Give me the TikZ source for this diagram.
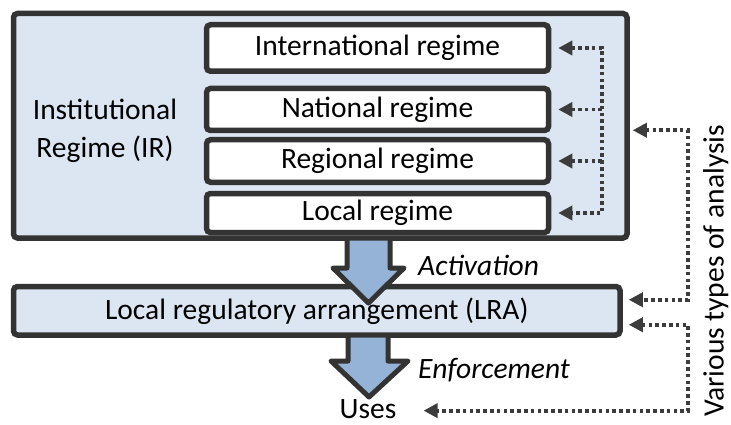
\documentclass[tikz,border=0pt]{standalone}
\usepackage{fontspec}
\setmainfont{Carlito}
\usetikzlibrary{arrows.meta}

\definecolor{ink}{HTML}{333333}
\definecolor{panel}{HTML}{DCE6F2}
\definecolor{flow}{HTML}{95B3D7}
\definecolor{dotink}{HTML}{3C3C3C}

\begin{document}
\begin{tikzpicture}[x=1pt,y=-1pt,
  txt/.style={font=\fontsize{29.5}{38}\selectfont, text=black},
  framebox/.style={txt, draw=ink, line width=5.5pt, rounded corners=4pt, inner sep=0pt},
  label/.style={txt, inner sep=0pt},
  dotline/.style={draw=dotink, line width=3.8pt, dash pattern=on 3.6pt off 3.2pt},
  dottip/.style={dotline, -{Triangle[length=14pt,width=14pt]}},
  dottips/.style={dotline, {Triangle[length=14pt,width=14pt]}-{Triangle[length=14pt,width=14pt]}},
  flowfill/.style={fill=flow},
  flowedge/.style={draw=ink, line width=5pt, line join=round}
]
\useasboundingbox (0,0) rectangle (731,425);

% institutional regime frame
\node[framebox, fill=panel, minimum width=613.5pt, minimum height=224.5pt] (ir) at (320.25,125.75) {};
\node[label, align=center] (irlbl) at (105,131) {Institutional\\Regime (IR)};

% the four regime levels
\node[framebox, fill=white, minimum width=342pt, minimum height=46.5pt] (intl) at (377.5,48) {International regime};
\node[framebox, fill=white, minimum width=342pt, minimum height=42pt] (natl) at (377.5,109.5) {National regime};
\node[framebox, fill=white, minimum width=342pt, minimum height=42.5pt] (regl) at (377.5,161) {Regional regime};
\node[framebox, fill=white, minimum width=342pt, minimum height=39pt] (locl) at (377.5,213) {Local regime};

% local regulatory arrangement
\node[framebox, fill=panel, minimum width=606.5pt, minimum height=48.5pt] (lra) at (316.75,310.75) {Local regulatory arrangement (LRA)};

% block arrow: activation
\fill[flowfill] (347,240.5) -- (347,268) -- (333,268) -- (368.5,303) -- (404,268) -- (390,268) -- (390,240.5) -- cycle;
\draw[flowedge] (347,238) -- (347,268) -- (333,268) -- (368.5,303) -- (404,268) -- (390,268) -- (390,238);

% block arrow: enforcement
\fill[flowfill] (348,337.5) -- (348,361) -- (331,361) -- (369,397) -- (408,361) -- (388,361) -- (388,337.5) -- cycle;
\draw[flowedge] (348,335) -- (348,361) -- (331,361) -- (369,397) -- (408,361) -- (388,361) -- (388,335);

% text labels
\node[label, font=\fontsize{29.5}{38}\selectfont\itshape, anchor=base west] (act) at (418,275) {Activation};
\node[label, font=\fontsize{29.5}{38}\selectfont\itshape, anchor=base west] (enf) at (418,378) {Enforcement};
\node[label, anchor=base] (uses) at (368,418.5) {Uses};
\node[label, rotate=90, anchor=base west] (various) at (723.5,417) {Various types of analysis};

% dotted connectors
\coordinate (busA) at (602,0);
\coordinate (busB) at (688,0);
\coordinate (irin) at ([xshift=3pt,yshift=-4.5pt]ir.east);
\coordinate (lraA) at ([xshift=6pt,yshift=11pt]lra.east);
\coordinate (lraB) at ([xshift=6pt,yshift=-14pt]lra.east);
\coordinate (usein) at ([xshift=27pt,yshift=-1.5pt]uses.east);

\draw[dottips] ([xshift=7pt]intl.east) -- (intl.east -| busA) -- (locl.east -| busA) -- ([xshift=7pt]locl.east);
\draw[dottip] (natl.east -| busA) -- ([xshift=7pt]natl.east);
\draw[dottip] (regl.east -| busA) -- ([xshift=7pt]regl.east);

\draw[dottips] (irin) -- (irin -| busB) -- (lraA -| busB) -- (lraA);
\draw[dottips] (lraB) -- (lraB -| busB) -- (usein -| busB) -- (usein);
\end{tikzpicture}
\end{document}
